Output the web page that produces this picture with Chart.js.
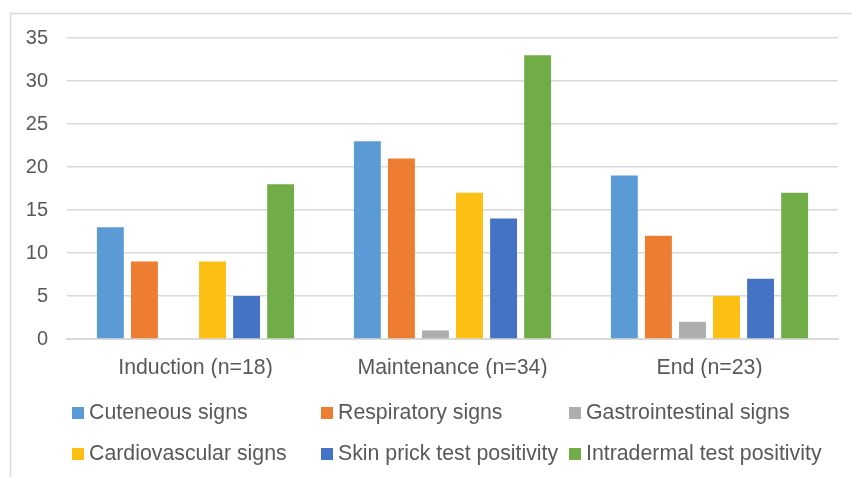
<!DOCTYPE html>
<html>
<head>
<meta charset="utf-8">
<script src="https://cdn.jsdelivr.net/npm/chart.js@4.4.1/dist/chart.umd.min.js"></script>
<style>
  html, body { margin: 0; padding: 0; background: #ffffff; }
  #wrap { position: relative; width: 852px; height: 477px; }
</style>
</head>
<body>
<div id="wrap"><canvas id="chart" width="852" height="477"></canvas></div>
<script>
// Phases of the study (x categories)
const phases = ['Induction (n=18)', 'Maintenance (n=34)', 'End (n=23)'];

// Number of dogs with each finding per phase
const cutaneous       = [13, 23, 19];
const respiratory     = [9, 21, 12];
const gastrointestinal = [0, 1, 2];
const cardiovascular  = [9, 17, 5];
const skinPrick       = [5, 14, 7];
const intradermal     = [18, 33, 17];

const seriesNames = [
  'Cuteneous signs', 'Respiratory signs', 'Gastrointestinal signs',
  'Cardiovascular signs', 'Skin prick test positivity', 'Intradermal test positivity'
];
const seriesValues = [cutaneous, respiratory, gastrointestinal, cardiovascular, skinPrick, intradermal];
const seriesColors = ['#5B9BD5', '#ED7D31', '#AEAEB1', '#FCBF14', '#4472C4', '#70AD47'];

const yTicks = [0, 5, 10, 15, 20, 25, 30, 35];

const FONT = '"Liberation Sans", Arial, sans-serif';
const TEXT = '#595959';
const GRID = '#D9D9D9';

// Outer frame (top and left edges) plus a three-column legend under the plot
const framePlugin = {
  id: 'frame',
  beforeDraw(chart) {
    const ctx = chart.ctx;
    ctx.save();
    ctx.strokeStyle = GRID;
    ctx.lineWidth = 1.5;
    ctx.beginPath();
    ctx.moveTo(10.5, chart.height);
    ctx.lineTo(10.5, 13.5);
    ctx.lineTo(chart.width, 13.5);
    ctx.stroke();
    ctx.restore();
  }
};

const gridLegendPlugin = {
  id: 'gridLegend',
  afterDraw(chart) {
    const ctx = chart.ctx;
    const colX = [72, 321, 569];
    const rowY = [413, 454];
    ctx.save();
    ctx.font = '21.3px ' + FONT;
    ctx.textBaseline = 'middle';
    ctx.textAlign = 'left';
    chart.data.datasets.forEach((ds, i) => {
      const x = colX[i % 3];
      const y = rowY[Math.floor(i / 3)];
      ctx.fillStyle = ds.backgroundColor;
      ctx.fillRect(x, y - 6, 12, 12);
      ctx.fillStyle = TEXT;
      ctx.fillText(ds.label, x + 17, y);
    });
    ctx.restore();
  }
};

new Chart(document.getElementById('chart'), {
  type: 'bar',
  data: {
    labels: phases,
    datasets: seriesNames.map((name, i) => ({
      label: name,
      data: seriesValues[i],
      backgroundColor: seriesColors[i],
      borderWidth: 0,
      barPercentage: 0.79,
      categoryPercentage: 0.795
    }))
  },
  options: {
    responsive: false,
    animation: false,
    layout: { padding: { top: 38, right: 14, bottom: 99, left: 0 } },
    plugins: {
      legend: { display: false },
      tooltip: { enabled: false }
    },
    scales: {
      x: {
        grid: { display: false, drawTicks: false },
        border: { display: true, color: GRID, width: 2 },
        ticks: { color: TEXT, font: { family: FONT, size: 21.3 }, padding: 16, maxRotation: 0 },
        afterFit(scale) { scale.height = 39; }
      },
      y: {
        min: 0,
        max: 35,
        afterBuildTicks(scale) { scale.ticks = yTicks.map(v => ({ value: v })); },
        grid: { color: GRID, lineWidth: 1.5, drawTicks: false },
        border: { display: false },
        ticks: { color: TEXT, font: { family: FONT, size: 20 }, padding: 19 },
        afterFit(scale) { scale.width = 67; }
      }
    }
  },
  plugins: [framePlugin, gridLegendPlugin]
});
</script>
</body>
</html>
